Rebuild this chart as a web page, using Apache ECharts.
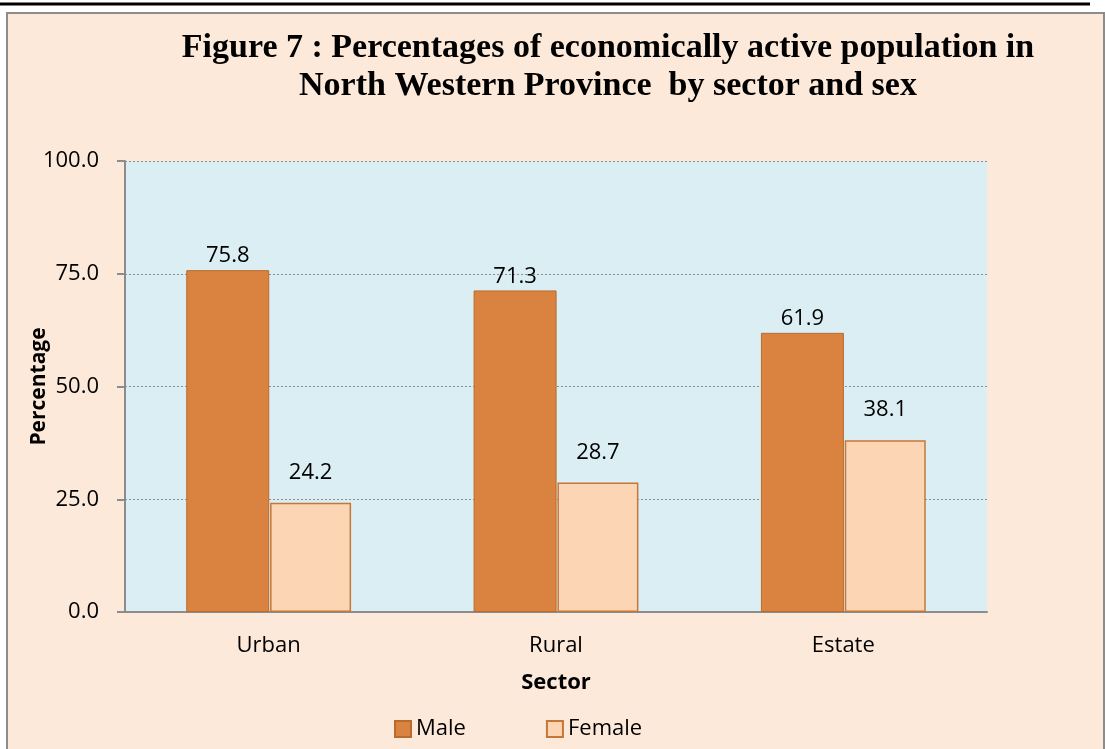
<!DOCTYPE html>
<html>
<head>
<meta charset="utf-8">
<script src="https://cdn.jsdelivr.net/npm/echarts@6/dist/echarts.min.js"></script>
<style>
  html, body { margin: 0; padding: 0; background: #ffffff; }
  #chart { width: 1105px; height: 749px; }
</style>
</head>
<body>
<div id="chart"></div>
<script>
// data
const sectors = ['Urban', 'Rural', 'Estate'];
const male = [75.8, 71.3, 61.9];
const female = [24.2, 28.7, 38.1];
const yTicks = [0, 25, 50, 75, 100];

const chart = echarts.init(document.getElementById('chart'));

const labelFont = 'Open Sans, Noto Sans, sans-serif';

const option = {
  animation: false,
  backgroundColor: '#ffffff',
  graphic: [
    // outer chart frame
    {
      type: 'rect', z: -10,
      shape: { x: 7, y: 13, width: 1097, height: 740 },
      style: { fill: '#FDE9D9', stroke: '#8C8C8C', lineWidth: 2 }
    },
    // document rule above the chart
    {
      type: 'line',
      shape: { x1: 0, y1: 4, x2: 1090, y2: 4 },
      style: { stroke: '#000', lineWidth: 3 }
    },
    // plot area background
    {
      type: 'rect', z: -5,
      shape: { x: 125, y: 161, width: 862, height: 451 },
      style: { fill: '#DAEEF3' }
    }
  ],
  title: {
    text: 'Figure 7 : Percentages of economically active population in\nNorth Western Province  by sector and sex',
    left: 603, top: 24, textAlign: 'center',
    textStyle: {
      fontFamily: 'Liberation Serif, serif',
      fontWeight: 'bold', fontSize: 34, lineHeight: 38, color: '#000'
    }
  },
  legend: {
    data: ['Male', 'Female'],
    top: 713, left: 389,
    itemWidth: 16, itemHeight: 16, itemGap: 80,
    icon: 'rect',
    textStyle: { fontFamily: labelFont, fontSize: 22, color: '#000' }
  },
  grid: { left: 125, right: 118, top: 161, bottom: 137 },
  xAxis: {
    type: 'category',
    data: sectors,
    name: 'Sector',
    nameLocation: 'middle',
    nameGap: 60,
    nameTextStyle: { fontFamily: labelFont, fontWeight: 'bold', fontSize: 22, color: '#000' },
    axisLine: { lineStyle: { color: '#8C8C8C', width: 2 } },
    axisTick: { show: false },
    axisLabel: { fontFamily: labelFont, fontSize: 22, color: '#000', margin: 23 }
  },
  yAxis: {
    type: 'value',
    min: yTicks[0], max: yTicks[yTicks.length - 1], interval: 25,
    name: 'Percentage',
    nameLocation: 'middle',
    nameGap: 75,
    nameMoveOverlap: false,
    nameTextStyle: { fontFamily: labelFont, fontWeight: 'bold', fontSize: 21, color: '#000' },
    axisLine: { show: true, lineStyle: { color: '#8C8C8C', width: 2 } },
    axisTick: { show: true, length: 8, lineStyle: { color: '#8C8C8C', width: 2 } },
    axisLabel: {
      fontFamily: labelFont, fontSize: 22, color: '#000', margin: 26,
      formatter: v => v.toFixed(1)
    },
    splitLine: { lineStyle: { color: '#8C8C8C', type: [2, 2], width: 1 } }
  },
  series: [
    {
      name: 'Male', type: 'bar', data: male,
      barWidth: 83, barGap: '1%',
      itemStyle: { color: '#DA823F', borderColor: '#B96B2E', borderWidth: 1 },
      label: {
        show: true, position: 'top', distance: 3,
        formatter: p => p.value.toFixed(1),
        fontFamily: labelFont, fontSize: 22, color: '#000'
      }
    },
    {
      name: 'Female', type: 'bar', data: female,
      barWidth: 81,
      itemStyle: { color: '#FCD5B5', borderColor: '#C5773A', borderWidth: 1.5 },
      label: {
        show: true, position: 'top', distance: 19,
        formatter: p => p.value.toFixed(1),
        fontFamily: labelFont, fontSize: 22, color: '#000'
      }
    }
  ]
};

chart.setOption(option);
</script>
</body>
</html>
